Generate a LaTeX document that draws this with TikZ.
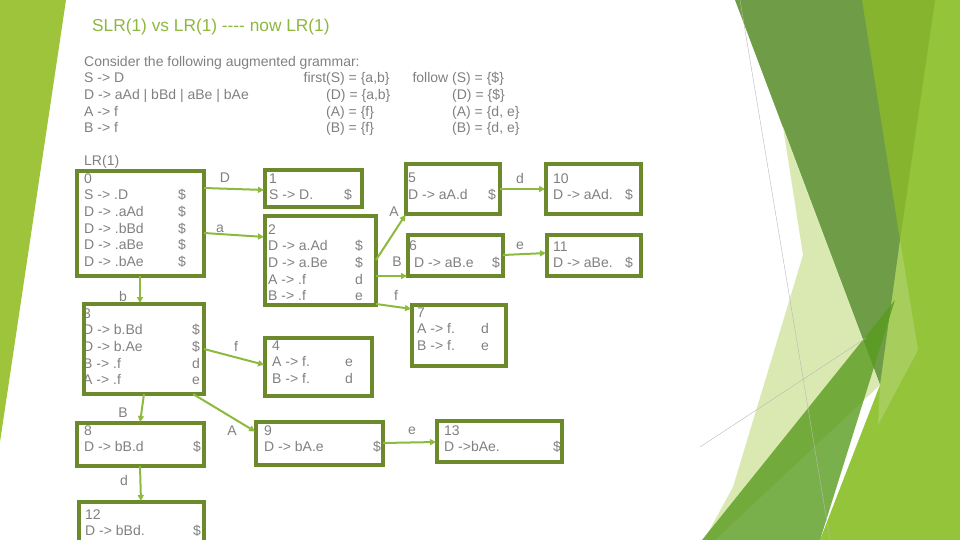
\documentclass[tikz,border=0pt]{standalone}
\usepackage{fontspec}
\setmainfont{Liberation Sans}[Ligatures=TeXOff]
\usetikzlibrary{arrows.meta}

\definecolor{boxgreen}{RGB}{108,138,44}
\definecolor{arrowgreen}{RGB}{140,186,62}
\definecolor{textgray}{RGB}{128,128,128}
\definecolor{titlegreen}{RGB}{141,183,62}
\definecolor{barlight}{RGB}{157,196,59}
\definecolor{decobase}{RGB}{148,196,58}
\definecolor{decostripe}{RGB}{134,180,46}
\definecolor{decodark}{RGB}{111,156,70}
\definecolor{decomid}{RGB}{88,156,30}
\definecolor{decopale}{RGB}{218,233,178}

\begin{document}
\begin{tikzpicture}[
  x=1pt, y=-1pt,
  >={Triangle[length=6pt,width=6pt]},
  every node/.style={font=\fontsize{14}{16.7}\selectfont, text=textgray, inner sep=0pt},
  state/.style={draw=boxgreen, line width=3.2pt, outer sep=0pt, anchor=north west},
  items/.style={anchor=north west},
  trans/.style={->, draw=arrowgreen, line width=2pt, shorten >=1pt}
]
\useasboundingbox (0,0) rectangle (960,540);
\clip (0,0) rectangle (960,540);

% ============================================================
% Slide background shapes
% ============================================================
\fill[barlight] (0,0) -- (66,0) -- (0,442) -- cycle;

\fill[decobase] (862,0) -- (960,0) -- (960,540) -- (820,540) -- (880,385) -- cycle;
\fill[decostripe] (862,0) -- (935,0) -- (900,240) -- cycle;
\fill[decodark] (735,0) -- (862,0) -- (900,240) -- (880,385) -- cycle;
\fill[white, opacity=0.18] (900,240) -- (918,350) -- (878,425) -- (880,385) -- cycle;
\fill[decopale] (783,127) -- (880,385) -- (715,540) -- (704,540) -- (733,487) -- (803,255) -- cycle;
\fill[decomid, opacity=0.8] (702,540) -- (895,300) -- (820,540) -- cycle;
\draw[gray!55, line width=0.4pt] (740,0) -- (830,540);
\draw[gray!55, line width=0.4pt] (700,447) -- (866,338);

% ============================================================
% Title and grammar
% ============================================================
\node[anchor=base west, font=\fontsize{17.3}{20}\selectfont, text=titlegreen] (title) at (92,32)
  {SLR(1) vs LR(1) ---- now LR(1)};

\node[items] (gram) at (84,54.3) {\begin{tabular}{@{}l@{}}
  Consider the following augmented grammar:\\
  S -> D\\
  D -> aAd | bBd | aBe | bAe\\
  A -> f\\
  B -> f
\end{tabular}};
\node[items] (firsts) at (326,70.8) {\begin{tabular}{@{}l@{}}
  \llap{first}(S) = \{a,b\}\\
  (D) = \{a,b\}\\
  (A) = \{f\}\\
  (B) = \{f\}
\end{tabular}};
\node[items] (follows) at (452,70.8) {\begin{tabular}{@{}l@{}}
  \llap{follow }(S) = \{\$\}\\
  (D) = \{\$\}\\
  (A) = \{d, e\}\\
  (B) = \{d, e\}
\end{tabular}};

\node[anchor=base west] (lrone) at (84,166) {LR(1)};

% ============================================================
% Item sets
% ============================================================
\node[items] (t0) at (84,171.3) {\begin{tabular}{@{}p{94pt}@{}l@{}}
  0\\ S -> .D & \$\\ D -> .aAd & \$\\ D -> .bBd & \$\\ D -> .aBe & \$\\ D -> .bAe & \$
\end{tabular}};
\node[items] (t1) at (269,171.3) {\begin{tabular}{@{}p{75pt}@{}l@{}}
  1\\ S -> D. & \$
\end{tabular}};
\node[items] (t2) at (268,222.3) {\begin{tabular}{@{}p{87pt}@{}l@{}}
  2\\ D -> a.Ad & \$\\ D -> a.Be & \$\\ A -> .f & d\\ B -> .f & e
\end{tabular}};
\node[items] (t3) at (83,306.3) {\begin{tabular}{@{}p{109pt}@{}l@{}}
  3\\ D -> b.Bd & \$\\ D -> b.Ae & \$\\ B -> .f & d\\ A -> .f & e
\end{tabular}};
\node[items] (t4) at (272,338.3) {\begin{tabular}{@{}p{73pt}@{}l@{}}
  4\\ A -> f. & e\\ B -> f. & d
\end{tabular}};
\node[items] (t5) at (408,170.8) {\begin{tabular}{@{}p{80pt}@{}l@{}}
  5\\ D -> aA.d & \$
\end{tabular}};
\node[items] (t6) at (409,238.8) {\begin{tabular}{@{}p{83pt}@{}l@{}}
  6\\ \hspace*{5pt}D -> aB.e & \$
\end{tabular}};
\node[items] (t7) at (417,305.3) {\begin{tabular}{@{}p{64pt}@{}l@{}}
  7\\ A -> f. & d\\ B -> f. & e
\end{tabular}};
\node[items] (t8) at (84,423.3) {\begin{tabular}{@{}p{109pt}@{}l@{}}
  8\\ D -> bB.d & \$
\end{tabular}};
\node[items] (t9) at (264,423.3) {\begin{tabular}{@{}p{109pt}@{}l@{}}
  9\\ D -> bA.e & \$
\end{tabular}};
\node[items] (t10) at (553,171.3) {\begin{tabular}{@{}p{72pt}@{}l@{}}
  10\\ D -> aAd. & \$
\end{tabular}};
\node[items] (t11) at (553,239.3) {\begin{tabular}{@{}p{72pt}@{}l@{}}
  11\\ D -> aBe. & \$
\end{tabular}};
\node[items] (t12) at (85,507.3) {\begin{tabular}{@{}p{108pt}@{}l@{}}
  12\\ D -> bBd. & \$
\end{tabular}};
\node[items] (t13) at (444,423.3) {\begin{tabular}{@{}p{109pt}@{}l@{}}
  13\\ D ->bAe. & \$
\end{tabular}};

% state frames
\node[state, minimum width=127pt, minimum height=105pt] (s0) at (77,171) {};
\node[state, minimum width=97pt,  minimum height=37pt]  (s1) at (265,170) {};
\node[state, minimum width=111pt, minimum height=89pt]  (s2) at (265,216) {};
\node[state, minimum width=120pt, minimum height=90pt]  (s3) at (84,304) {};
\node[state, minimum width=107pt, minimum height=58pt]  (s4) at (265,338) {};
\node[state, minimum width=94pt,  minimum height=50pt]  (s5) at (406,164) {};
\node[state, minimum width=95pt,  minimum height=41pt]  (s6) at (408,235) {};
\node[state, minimum width=94pt,  minimum height=61pt]  (s7) at (412,305) {};
\node[state, minimum width=127pt, minimum height=43pt]  (s8) at (77,423) {};
\node[state, minimum width=127pt, minimum height=43pt]  (s9) at (256,422) {};
\node[state, minimum width=95pt,  minimum height=50pt]  (s10) at (546,164) {};
\node[state, minimum width=94pt,  minimum height=41pt]  (s11) at (547,235) {};
\node[state, minimum width=125pt, minimum height=60pt]  (s12) at (79,502) {};
\node[state, minimum width=125pt, minimum height=41pt]  (s13) at (437,421) {};

% ============================================================
% Transitions
% ============================================================
\draw[trans] ([yshift=-17pt]s0.north east) -- ([yshift=-20pt]s1.north west);
\draw[trans] ([yshift=-62pt]s0.north east) -- ([yshift=-21pt]s2.north west);
\draw[trans] ([xshift=63pt]s0.south west) -- ([xshift=56pt]s3.north west);
\draw[trans] ([yshift=-45pt]s3.north east) -- ([yshift=-27pt]s4.north west);
\draw[trans] ([yshift=-44pt]s2.north east) -- (s5.south west);
\draw[trans] ([yshift=-60pt]s2.north east) -- ([yshift=-41pt]s6.north west);
\draw[trans] ([yshift=-88pt]s2.north east) -- ([yshift=-4pt]s7.north west);
\draw[trans] ([yshift=-25pt]s5.north east) -- ([yshift=-25pt]s10.north west);
\draw[trans] ([yshift=-20pt]s6.north east) -- ([yshift=-18pt]s11.north west);
\draw[trans] ([xshift=60pt]s3.south west) -- ([xshift=63pt]s8.north west);
\draw[trans] ([xshift=-11pt]s3.south east) -- ([yshift=-10pt]s9.north west);
\draw[trans] ([xshift=63pt]s8.south west) -- ([xshift=62pt]s12.north west);
\draw[trans] ([yshift=-21pt]s9.north east) -- ([yshift=-21pt]s13.north west);

\node (l01) at (225,178) {D};
\node (l02) at (220,229) {a};
\node (l03) at (123,296) {b};
\node (l34) at (236,346) {f};
\node (l38) at (123,413) {B};
\node (l812) at (124,480) {d};
\node (l39) at (232,431) {A};
\node (l25) at (394,212) {A};
\node (l26) at (397,262) {B};
\node (l27) at (396,295) {f};
\node (l510) at (520,178) {d};
\node (l611) at (520,246) {e};
\node (l913) at (412,431) {e};

\end{tikzpicture}
\end{document}
